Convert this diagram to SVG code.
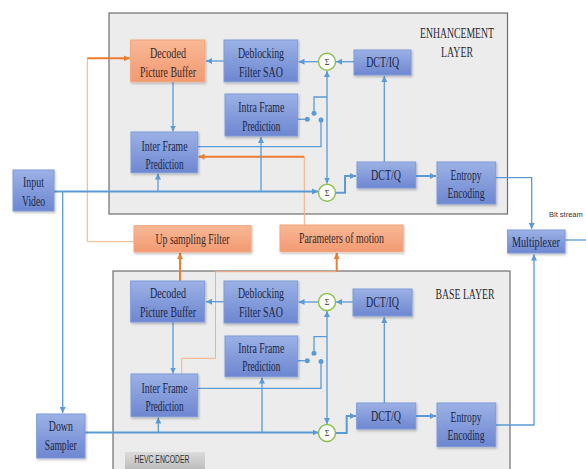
<svg xmlns="http://www.w3.org/2000/svg" width="586" height="469" viewBox="0 0 586 469">
<defs>
<linearGradient id="gb" x1="0" y1="0" x2="0" y2="1"><stop offset="0" stop-color="#9cb1e5"/><stop offset="1" stop-color="#6d87d1"/></linearGradient>
<linearGradient id="go" x1="0" y1="0" x2="0" y2="1"><stop offset="0" stop-color="#f8b896"/><stop offset="1" stop-color="#f29a72"/></linearGradient>
<linearGradient id="gh" x1="0" y1="0" x2="0" y2="1"><stop offset="0" stop-color="#dcdcdc"/><stop offset="1" stop-color="#bdbdbd"/></linearGradient>
<filter id="sh" x="-10%" y="-10%" width="130%" height="140%"><feDropShadow dx="1" dy="1.5" stdDeviation="0.8" flood-color="#000" flood-opacity="0.25"/></filter>
<marker id="ab" markerUnits="userSpaceOnUse" markerWidth="7" markerHeight="7" refX="6" refY="3.5" orient="auto-start-reverse"><path d="M0,0.5 L6,3.5 L0,6.5 Z" fill="#5b9bd5"/></marker>
<marker id="ao" markerUnits="userSpaceOnUse" markerWidth="7" markerHeight="7" refX="6" refY="3.5" orient="auto-start-reverse"><path d="M0,0.5 L6,3.5 L0,6.5 Z" fill="#ed7d31"/></marker>
</defs>
<style>
.layer{fill:#ececec;stroke:#6e6e6e;stroke-width:1.2}
.bn{fill:url(#gb);stroke:#7f9bd8;stroke-width:1;filter:url(#sh)}
.on{fill:url(#go);stroke:#f4a47e;stroke-width:1;filter:url(#sh)}
.sg{fill:#ffffff;stroke:#8cc152;stroke-width:1.5}
.t{font-family:"Liberation Serif","Times New Roman",serif;font-size:15px;fill:#1c2744;text-anchor:middle}
.to{font-family:"Liberation Serif","Times New Roman",serif;font-size:15px;fill:#3a2a28;text-anchor:middle}
.ts{font-family:"Liberation Serif",serif;font-size:8px;fill:#333;text-anchor:middle}
.tl{font-family:"Liberation Serif","Times New Roman",serif;font-size:15px;fill:#2a2a2a;text-anchor:middle}
.tsans{font-family:"Liberation Sans",Arial,sans-serif;font-size:10px;fill:#333}
.tbit{font-family:"Liberation Sans",Arial,sans-serif;font-size:7.5px;fill:#333}
.c{fill:none;stroke:#5b9bd5;stroke-width:1.3}
.ct{fill:none;stroke:#5b9bd5;stroke-width:2}
.o{fill:none;stroke:#f4b183;stroke-width:1}
.ot{fill:none;stroke:#ed7d31;stroke-width:2}
.dot{fill:#5b9bd5}
</style>

<g id="enhancement-layer">
<rect class="layer" x="109" y="13" width="398.5" height="201"/>
<text class="tl" x="457" y="38" textLength="74" lengthAdjust="spacingAndGlyphs">ENHANCEMENT</text>
<text class="tl" x="457" y="57" textLength="32" lengthAdjust="spacingAndGlyphs">LAYER</text>
</g>
<g id="base-layer">
<rect class="layer" x="113" y="271" width="397" height="210"/>
<text class="tl" x="465" y="299" textLength="59" lengthAdjust="spacingAndGlyphs">BASE LAYER</text>
</g>
<g id="hevc-label">
<rect x="125" y="452" width="80" height="17" fill="url(#gh)"/>
<text class="tsans" x="162" y="463" text-anchor="middle" textLength="55" lengthAdjust="spacingAndGlyphs">HEVC ENCODER</text>
</g>

<g id="connectors">
<path class="o" d="M134,241.7 H87.3 V58.3"/>
<path class="ot" d="M87.3,58.3 H129.7" marker-end="url(#ao)"/>
<path class="ot" d="M180,281 V253" marker-end="url(#ao)"/>
<path class="o" d="M181.7,374 V358.3 H215.5 V271.7 H336.7"/>
<path class="ot" d="M336.7,271.7 V253" marker-end="url(#ao)"/>
<path class="o" d="M304.3,225 V156.7"/>
<path class="ot" d="M304.3,156.7 H198.5" marker-end="url(#ao)"/>
<path class="ct" d="M54,191.5 H318" marker-end="url(#ab)"/>
<path class="c" d="M62.7,191.5 V413" marker-end="url(#ab)"/>
<path class="c" d="M158,191.5 V173.5" marker-end="url(#ab)"/>
<path class="c" d="M261,191.5 V137" marker-end="url(#ab)"/>
<path class="c" d="M173,81.7 V131.5" marker-end="url(#ab)"/>
<path class="c" d="M224,61 H206" marker-end="url(#ab)"/>
<path class="c" d="M318.5,61.7 H298.5" marker-end="url(#ab)"/>
<path class="c" d="M354,61.7 H336" marker-end="url(#ab)"/>
<path class="c" d="M327,183.5 V71" marker-start="url(#ab)" marker-end="url(#ab)"/>
<path class="c" d="M297.7,119.3 H306"/>
<circle class="dot" cx="307.3" cy="119.3" r="2.5"/>
<circle class="dot" cx="314" cy="113.3" r="2.5"/>
<path class="c" d="M314,111 V97 H327"/>
<circle class="dot" cx="321" cy="120" r="2.5"/>
<path class="c" d="M321,122 V146.7 H198"/>
<path class="c" d="M384.3,162 V76" marker-end="url(#ab)"/>
<path class="ct" d="M335.5,192.7 H345 V176 H356" marker-end="url(#ab)"/>
<path class="ct" d="M415.7,176 H436" marker-end="url(#ab)"/>
<path class="c" d="M495.7,177.7 H531.7 V229" marker-end="url(#ab)"/>
<path class="c" d="M565,240 H586"/>
<path class="ct" d="M85,432.5 H318.5" marker-end="url(#ab)"/>
<path class="c" d="M158.3,432.5 V417.5" marker-end="url(#ab)"/>
<path class="c" d="M262,432.5 V377.5" marker-end="url(#ab)"/>
<path class="c" d="M173,322 V373.5" marker-end="url(#ab)"/>
<path class="c" d="M224,301.7 H206" marker-end="url(#ab)"/>
<path class="c" d="M318.5,302 H298.5" marker-end="url(#ab)"/>
<path class="c" d="M353,302 H336" marker-end="url(#ab)"/>
<path class="c" d="M327,424 V311" marker-start="url(#ab)" marker-end="url(#ab)"/>
<path class="c" d="M297.7,360.7 H306"/>
<circle class="dot" cx="307.3" cy="360.7" r="2.5"/>
<circle class="dot" cx="314" cy="353.3" r="2.5"/>
<path class="c" d="M314,351 V336.7 H327"/>
<circle class="dot" cx="321" cy="361.5" r="2.5"/>
<path class="c" d="M321,363.5 V388.3 H198"/>
<path class="c" d="M384.3,403 V317" marker-end="url(#ab)"/>
<path class="ct" d="M335.5,433 H346.7 V416 H356" marker-end="url(#ab)"/>
<path class="ct" d="M415.7,416 H436" marker-end="url(#ab)"/>
<path class="c" d="M495.7,425 H534 V254.5" marker-end="url(#ab)"/>
</g>

<g id="dpb-enh"><rect class="on" x="130.7" y="40" width="74" height="41.7"/>
<text class="to" x="168" y="58" textLength="36" lengthAdjust="spacingAndGlyphs">Decoded</text>
<text class="to" x="168" y="77" textLength="56" lengthAdjust="spacingAndGlyphs">Picture Buffer</text></g>
<g id="deblock-enh"><rect class="bn" x="224" y="40" width="73.7" height="41.7"/>
<text class="t" x="261" y="58" textLength="46" lengthAdjust="spacingAndGlyphs">Deblocking</text>
<text class="t" x="261" y="76.5" textLength="44" lengthAdjust="spacingAndGlyphs">Filter SAO</text></g>
<g id="intra-enh"><rect class="bn" x="225" y="94" width="72.7" height="42"/>
<text class="t" x="261.3" y="112" textLength="46" lengthAdjust="spacingAndGlyphs">Intra Frame</text>
<text class="t" x="261.3" y="131" textLength="38" lengthAdjust="spacingAndGlyphs">Prediction</text></g>
<g id="inter-enh"><rect class="bn" x="131" y="132" width="66.7" height="40.7"/>
<text class="t" x="164.5" y="151" textLength="46" lengthAdjust="spacingAndGlyphs">Inter Frame</text>
<text class="t" x="164.5" y="169" textLength="38" lengthAdjust="spacingAndGlyphs">Prediction</text></g>
<g id="input-video"><rect class="bn" x="13" y="170" width="41" height="41"/>
<text class="t" x="33.5" y="187" textLength="21" lengthAdjust="spacingAndGlyphs">Input</text>
<text class="t" x="33.5" y="206" textLength="23" lengthAdjust="spacingAndGlyphs">Video</text></g>
<g id="sum1-enh"><circle class="sg" cx="327" cy="61.7" r="8.5"/><text class="ts" x="327" y="64.5">Σ</text></g>
<g id="dctiq-enh"><rect class="bn" x="354" y="50" width="57" height="25"/>
<text class="t" x="382.7" y="66.5" textLength="33" lengthAdjust="spacingAndGlyphs">DCT/IQ</text></g>
<g id="sum2-enh"><circle class="sg" cx="327" cy="192.7" r="8.5"/><text class="ts" x="327" y="195.5">Σ</text></g>
<g id="dctq-enh"><rect class="bn" x="357" y="162" width="58.7" height="26"/>
<text class="t" x="386" y="180" textLength="30" lengthAdjust="spacingAndGlyphs">DCT/Q</text></g>
<g id="entropy-enh"><rect class="bn" x="437" y="162" width="58.7" height="42"/>
<text class="t" x="466" y="180" textLength="31" lengthAdjust="spacingAndGlyphs">Entropy</text>
<text class="t" x="466" y="197.5" textLength="37" lengthAdjust="spacingAndGlyphs">Encoding</text></g>

<g id="upsampling"><rect class="on" x="134" y="225.7" width="117" height="26.3"/>
<text class="to" x="192.5" y="243.5" textLength="74" lengthAdjust="spacingAndGlyphs">Up sampling Filter</text></g>
<g id="params-motion"><rect class="on" x="280" y="225" width="123" height="26.7"/>
<text class="to" x="341.5" y="243" textLength="85" lengthAdjust="spacingAndGlyphs">Parameters of motion</text></g>
<g id="multiplexer"><rect class="bn" x="507.5" y="230" width="57.5" height="23"/>
<text class="t" x="536" y="246.5" textLength="48" lengthAdjust="spacingAndGlyphs">Multiplexer</text></g>
<g id="bitstream-label"><text class="tbit" x="549" y="217">Bit stream</text></g>

<g id="dpb-base"><rect class="bn" x="130.7" y="281" width="74" height="41"/>
<text class="t" x="168" y="298" textLength="36" lengthAdjust="spacingAndGlyphs">Decoded</text>
<text class="t" x="168" y="317" textLength="56" lengthAdjust="spacingAndGlyphs">Picture Buffer</text></g>
<g id="deblock-base"><rect class="bn" x="224" y="281" width="73.7" height="42"/>
<text class="t" x="261" y="297.5" textLength="46" lengthAdjust="spacingAndGlyphs">Deblocking</text>
<text class="t" x="261" y="317" textLength="44" lengthAdjust="spacingAndGlyphs">Filter SAO</text></g>
<g id="intra-base"><rect class="bn" x="225" y="336" width="72.7" height="40.7"/>
<text class="t" x="261.3" y="353" textLength="46" lengthAdjust="spacingAndGlyphs">Intra Frame</text>
<text class="t" x="261.3" y="371" textLength="38" lengthAdjust="spacingAndGlyphs">Prediction</text></g>
<g id="inter-base"><rect class="bn" x="131" y="374" width="66.7" height="42.7"/>
<text class="t" x="164.5" y="393" textLength="46" lengthAdjust="spacingAndGlyphs">Inter Frame</text>
<text class="t" x="164.5" y="410.5" textLength="38" lengthAdjust="spacingAndGlyphs">Prediction</text></g>
<g id="down-sampler"><rect class="bn" x="36.7" y="414" width="48.3" height="44"/>
<text class="t" x="60.8" y="431" textLength="24" lengthAdjust="spacingAndGlyphs">Down</text>
<text class="t" x="60.8" y="450" textLength="32" lengthAdjust="spacingAndGlyphs">Sampler</text></g>
<g id="sum1-base"><circle class="sg" cx="327" cy="302" r="8.5"/><text class="ts" x="327" y="304.8">Σ</text></g>
<g id="dctiq-base"><rect class="bn" x="353" y="289" width="59" height="27"/>
<text class="t" x="382.5" y="307" textLength="33" lengthAdjust="spacingAndGlyphs">DCT/IQ</text></g>
<g id="sum2-base"><circle class="sg" cx="327" cy="433" r="8.5"/><text class="ts" x="327" y="435.8">Σ</text></g>
<g id="dctq-base"><rect class="bn" x="356.7" y="403" width="59" height="26"/>
<text class="t" x="386" y="421" textLength="30" lengthAdjust="spacingAndGlyphs">DCT/Q</text></g>
<g id="entropy-base"><rect class="bn" x="437" y="403" width="58.7" height="43.7"/>
<text class="t" x="466" y="421.5" textLength="31" lengthAdjust="spacingAndGlyphs">Entropy</text>
<text class="t" x="466" y="439.5" textLength="37" lengthAdjust="spacingAndGlyphs">Encoding</text></g>
</svg>
